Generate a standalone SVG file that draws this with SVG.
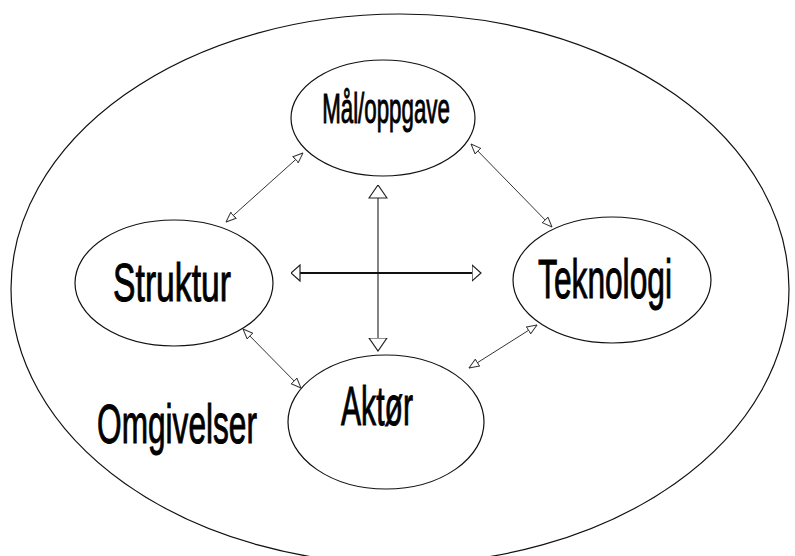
<svg xmlns="http://www.w3.org/2000/svg" width="795" height="556" viewBox="0 0 795 556">
<style>
.bg{fill:#fff}
.ell{fill:#fff;stroke:#111;stroke-width:1.2}
.lbl{font-family:"Liberation Sans","DejaVu Sans",sans-serif;fill:#000;stroke:#000;stroke-width:1;text-anchor:middle}
.thin{stroke:#333;stroke-width:1;fill:none;marker-start:url(#sm);marker-end:url(#sm)}
</style>
<defs>
<marker id="sm" markerUnits="userSpaceOnUse" viewBox="0 0 11 9" refX="10.5" refY="4.5" markerWidth="11" markerHeight="9" orient="auto-start-reverse">
<path d="M0.5,0.5 L10.5,4.5 L0.5,8.5 Z" fill="#fff" stroke="#333" stroke-width="1"/>
</marker>
<marker id="bv" markerUnits="userSpaceOnUse" viewBox="0 0 14 20" refX="13.5" refY="10" markerWidth="14" markerHeight="20" orient="auto-start-reverse">
<path d="M0.5,1 L13.5,10 L0.5,19 Z" fill="#fff" stroke="#222" stroke-width="1.2"/>
</marker>
<marker id="bh" markerUnits="userSpaceOnUse" viewBox="0 0 10 18" refX="9.5" refY="9" markerWidth="10" markerHeight="18" orient="auto-start-reverse">
<path d="M0.5,1 L9.5,9 L0.5,17 Z" fill="#fff" stroke="#222" stroke-width="1.2"/>
</marker>
</defs>
<rect class="bg" x="0" y="0" width="795" height="556"/>
<g id="omgivelser">
<ellipse cx="400" cy="289" rx="389" ry="275" fill="none" stroke="#111" stroke-width="1.2"/>
<text class="lbl" transform="translate(177,443) scale(0.575,1)" x="0" y="0" font-size="55" textLength="278" lengthAdjust="spacingAndGlyphs">Omgivelser</text>
</g>
<g id="connectors">
<line x1="303" y1="153" x2="226" y2="222" class="thin"/>
<line x1="471" y1="144" x2="552" y2="227" class="thin"/>
<line x1="243" y1="329" x2="301" y2="388" class="thin"/>
<line x1="537" y1="325" x2="469" y2="368" class="thin"/>
<line x1="378" y1="185" x2="378" y2="351" stroke="#333" stroke-width="1.2" marker-start="url(#bv)" marker-end="url(#bv)"/>
<line x1="291" y1="273" x2="481" y2="273" stroke="#111" stroke-width="2" marker-start="url(#bh)" marker-end="url(#bh)"/>
</g>
<g id="maal">
<ellipse class="ell" cx="383" cy="118" rx="92" ry="58"/>
<text class="lbl" transform="translate(386,123) scale(0.53,1)" x="0" y="0" font-size="42" textLength="241" lengthAdjust="spacingAndGlyphs">Mål/oppgave</text>
</g>
<g id="struktur">
<ellipse class="ell" cx="174" cy="283" rx="99" ry="63"/>
<text class="lbl" transform="translate(172,301) scale(0.62,1)" x="0" y="0" font-size="54" textLength="190" lengthAdjust="spacingAndGlyphs">Struktur</text>
</g>
<g id="teknologi">
<ellipse class="ell" cx="612" cy="280" rx="99" ry="63"/>
<text class="lbl" transform="translate(605,298) scale(0.56,1)" x="0" y="0" font-size="55" textLength="239" lengthAdjust="spacingAndGlyphs">Teknologi</text>
</g>
<g id="aktor">
<ellipse class="ell" cx="386" cy="422" rx="98" ry="67"/>
<text class="lbl" transform="translate(377,425) scale(0.55,1)" x="0" y="0" font-size="56" textLength="131" lengthAdjust="spacingAndGlyphs">Aktør</text>
</g>
</svg>
